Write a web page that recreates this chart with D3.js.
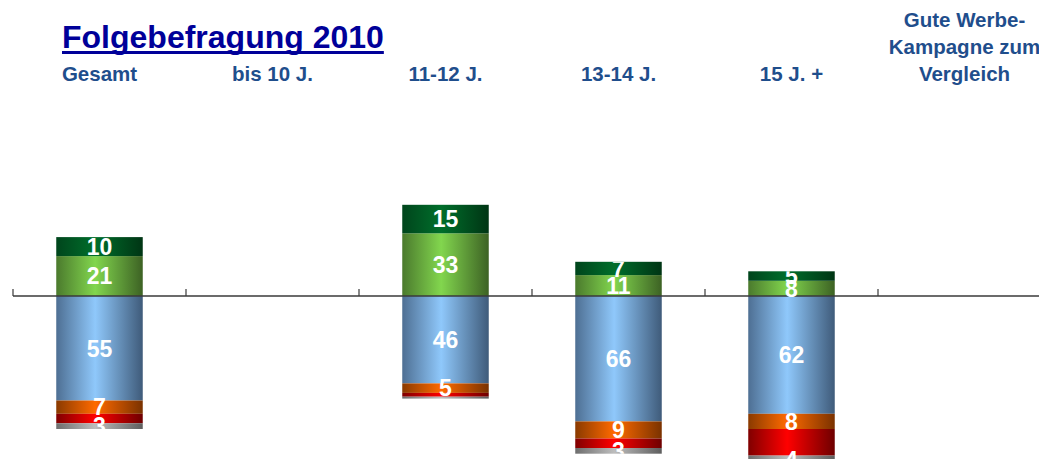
<!DOCTYPE html>
<html>
<head>
<meta charset="utf-8">
<script src="https://cdn.jsdelivr.net/npm/d3@7"></script>
<style>
  html, body { margin: 0; padding: 0; background: #ffffff; }
  svg { display: block; }
  text { font-family: "Liberation Sans", Arial, sans-serif; font-weight: bold; }
</style>
</head>
<body>
<div id="chart"></div>
<script>
// ---------- data ----------
const title = "Folgebefragung 2010";
const categories = ["Gesamt", "bis 10 J.", "11-12 J.", "13-14 J.", "15 J. +", "Gute Werbe-Kampagne zum Vergleich"];
const categoryLines = [["Gesamt"], ["bis 10 J."], ["11-12 J."], ["13-14 J."], ["15 J. +"], ["Gute Werbe-", "Kampagne zum", "Vergleich"]];

// stacked upwards from zero
const lightGreen = [21, null, 33, 11, 8, null];
const darkGreen  = [10, null, 15, 7, 5, null];
// stacked downwards from zero
const blue   = [55, null, 46, 66, 62, null];
const orange = [7, null, 5, 9, 8, null];
const red    = [5, null, 2, 5, 14, null];
const gray   = [3, null, 1, 3, 4, null];

const upSeries = [
  { name: "lightGreen", values: lightGreen, stops: ["#4b7a2d", "#82d64e", "#3d6224"], label: true },
  { name: "darkGreen",  values: darkGreen,  stops: ["#00451c", "#006e2b", "#003514"], label: true }
];
const downSeries = [
  { name: "blue",   values: blue,   stops: ["#4e6f93", "#8fc8fb", "#3f5b7a"], label: true },
  { name: "orange", values: orange, stops: ["#8a3a00", "#ff6a00", "#7a3200"], label: true },
  { name: "red",    values: red,    stops: ["#800000", "#ff0000", "#6e0000"], label: false },
  { name: "gray",   values: gray,   stops: ["#6e6e6e", "#bdbdbd", "#5e5e5e"], label: true }
];

// ---------- layout ----------
const W = 1039, H = 459;
const svg = d3.select("#chart").append("svg").attr("width", W).attr("height", H);

const x = d3.scaleBand().domain(categories).range([13, 13 + 173 * 6]).paddingInner(0.5).paddingOuter(0.25);
const y = d3.scaleLinear().domain([-86, 36]).range([296 + 86 * 1.9, 296 - 36 * 1.9]);

// gradients
const defs = svg.append("defs");
[...upSeries, ...downSeries].forEach(s => {
  const g = defs.append("linearGradient").attr("id", "g-" + s.name)
    .attr("x1", "0%").attr("x2", "100%").attr("y1", "0%").attr("y2", "0%");
  g.append("stop").attr("offset", "0%").attr("stop-color", s.stops[0]);
  g.append("stop").attr("offset", "45%").attr("stop-color", s.stops[1]);
  g.append("stop").attr("offset", "100%").attr("stop-color", s.stops[2]);
});

// build segments
const segs = [];
const barExtent = {};
categories.forEach((c, i) => {
  let top = 0, bottom = 0, any = false;
  upSeries.forEach(s => {
    const v = s.values[i];
    if (v == null) return;
    any = true;
    segs.push({ c, s, v, y0: top, y1: top + v });
    top += v;
  });
  downSeries.forEach(s => {
    const v = s.values[i];
    if (v == null) return;
    any = true;
    segs.push({ c, s, v, y0: bottom - v, y1: bottom });
    bottom -= v;
  });
  if (any) barExtent[c] = { top, bottom };
});

// clip paths per bar
Object.keys(barExtent).forEach(c => {
  const e = barExtent[c];
  defs.append("clipPath").attr("id", "clip-" + categories.indexOf(c))
    .append("rect")
    .attr("x", x(c)).attr("width", x.bandwidth())
    .attr("y", y(e.top)).attr("height", y(e.bottom) - y(e.top));
});

// bars
svg.append("g").selectAll("rect").data(segs).join("rect")
  .attr("x", d => x(d.c))
  .attr("width", x.bandwidth())
  .attr("y", d => y(d.y1))
  .attr("height", d => y(d.y0) - y(d.y1))
  .attr("fill", d => "url(#g-" + d.s.name + ")");

// axis line + ticks
const step = x.step();
const gap = step - x.bandwidth();
const tickXs = categories.map(c => x(c) - gap / 2).concat([x(categories[categories.length - 1]) + x.bandwidth() + gap / 2]);
const axis = svg.append("g");
axis.append("line")
  .attr("x1", tickXs[0]).attr("x2", W)
  .attr("y1", y(0)).attr("y2", y(0))
  .attr("stroke", "#3a3a3a").attr("stroke-width", 1.5);
axis.selectAll("line.tick").data(tickXs.filter(t => t <= W)).join("line")
  .attr("class", "tick")
  .attr("x1", d => d).attr("x2", d => d)
  .attr("y1", y(0) - 7).attr("y2", y(0))
  .attr("stroke", "#3a3a3a").attr("stroke-width", 1.2);

// labels
const lab = svg.append("g");
segs.filter(d => d.s.label && d.v >= 2).forEach(d => {
  lab.append("text")
    .attr("clip-path", "url(#clip-" + categories.indexOf(d.c) + ")")
    .attr("x", x(d.c) + x.bandwidth() / 2)
    .attr("y", (y(d.y0) + y(d.y1)) / 2)
    .attr("dy", "0.36em")
    .attr("text-anchor", "middle")
    .attr("fill", "#ffffff")
    .attr("font-size", 23)
    .text(d.v);
});

// title
const t = svg.append("text")
  .attr("x", 62).attr("y", 48)
  .attr("fill", "#000099")
  .attr("font-size", 32)
  .text(title);
const tw = t.node().getComputedTextLength();
svg.append("rect").attr("x", 62).attr("y", 51).attr("width", tw).attr("height", 3).attr("fill", "#000099");

// category headers
const hdr = svg.append("g");
categories.forEach((c, i) => {
  const lines = categoryLines[i];
  const cx = x(c) + x.bandwidth() / 2;
  lines.forEach((ln, j) => {
    hdr.append("text")
      .attr("x", cx)
      .attr("y", 81 - (lines.length - 1 - j) * 27)
      .attr("text-anchor", "middle")
      .attr("fill", "#1f4e8c")
      .attr("font-size", 20.5)
      .text(ln);
  });
});
</script>
</body>
</html>
